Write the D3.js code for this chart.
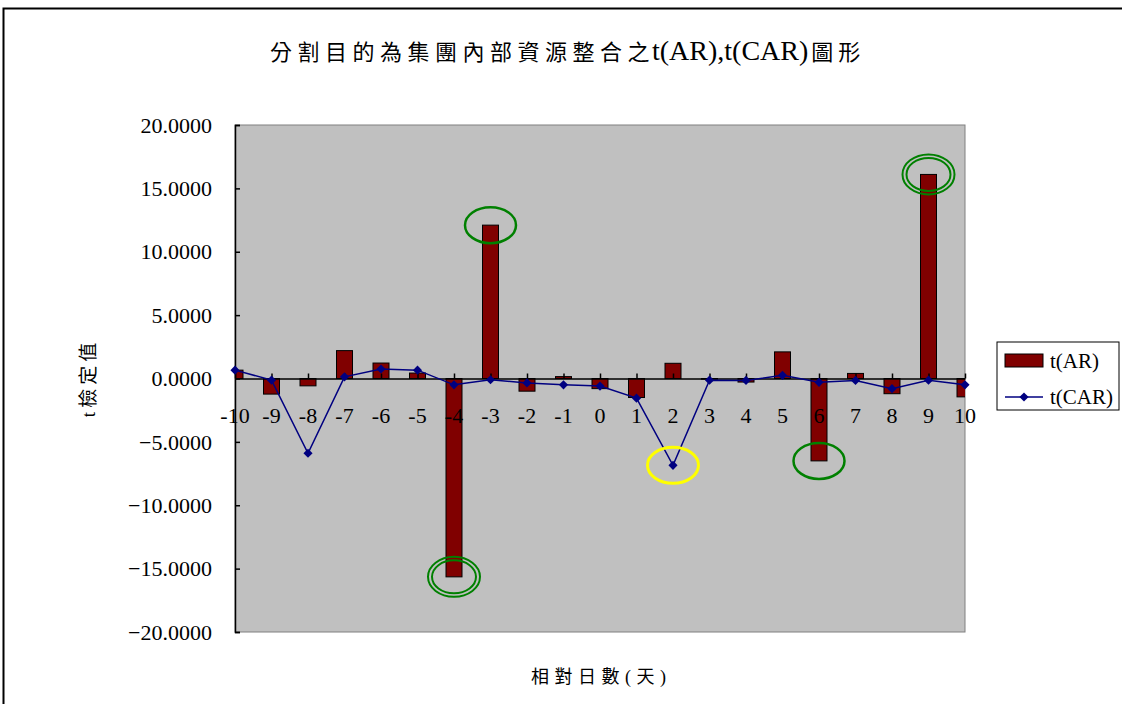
<!DOCTYPE html>
<html>
<head>
<meta charset="utf-8">
<script src="https://cdn.jsdelivr.net/npm/d3@7/dist/d3.min.js"></script>
<style>
  html, body { margin: 0; padding: 0; background: #fff; }
  svg { display: block; }
</style>
</head>
<body>
<svg id="chart" width="1122" height="704"></svg>
<script>
// Event days (relative to announcement)
const days = [-10, -9, -8, -7, -6, -5, -4, -3, -2, -1, 0, 1, 2, 3, 4, 5, 6, 7, 8, 9, 10];
// t statistic of abnormal return per day
const tAR = [0.66, -1.23, -0.58, 2.2, 1.22, 0.43, -15.65, 12.1, -1.0, 0.15, -0.8,
             -1.5, 1.2, -0.05, -0.28, 2.1, -6.5, 0.4, -1.2, 16.1, -1.45];
// t statistic of cumulative abnormal return per day
const tCAR = [0.66, -0.13, -5.9, 0.13, 0.75, 0.66, -0.5, -0.1, -0.35, -0.5, -0.6,
              -1.55, -6.85, -0.13, -0.15, 0.25, -0.3, -0.15, -0.8, -0.13, -0.5];
// Value axis ticks
const yTicks = [20, 15, 10, 5, 0, -5, -10, -15, -20];
// Highlighted observations
const highlightDays = [-4, -3, 2, 6, 9];
const highlightSeries = ["AR", "AR", "CAR", "AR", "AR"];
const highlightColors = ["#008000", "#008000", "#FFFF00", "#008000", "#008000"];
const highlightDouble = [true, false, false, false, true];

const titleParts = ["分割目的為集團內部資源整合之", "t(AR),t(CAR)", "圖形"];
const xTitle = "相對日數(天)";
const yTitle = "t檢定值";
const seriesNames = ["t(AR)", "t(CAR)"];

const SERIF = '"Liberation Serif", "Times New Roman", serif';
const CJK = '"Liberation Serif", "Noto Sans CJK TC", serif';

const svg = d3.select("#chart");
const plot = { left: 235, right: 965, top: 125, bottom: 632 };

// Outer chart frame (extends past the right/bottom edges)
svg.append("rect")
  .attr("x", 3.5).attr("y", 8.5).attr("width", 1300).attr("height", 900)
  .attr("fill", "#fff").attr("stroke", "#000").attr("stroke-width", 2);

const x = d3.scalePoint().domain(days).range([plot.left, plot.right]);
const y = d3.scaleLinear().domain([-20, 20]).range([plot.bottom, plot.top]);
const barW = 16;

// Plot background
svg.append("rect")
  .attr("x", plot.left).attr("y", plot.top)
  .attr("width", plot.right - plot.left).attr("height", plot.bottom - plot.top)
  .attr("fill", "#C0C0C0").attr("stroke", "#808080").attr("stroke-width", 1);

svg.append("clipPath").attr("id", "plotClip")
  .append("rect")
  .attr("x", plot.left).attr("y", plot.top)
  .attr("width", plot.right - plot.left).attr("height", plot.bottom - plot.top);

// Bars for t(AR)
svg.append("g").attr("clip-path", "url(#plotClip)")
  .selectAll("rect").data(days).join("rect")
  .attr("x", (d) => x(d) - barW / 2)
  .attr("y", (d, i) => y(Math.max(0, tAR[i])))
  .attr("width", barW)
  .attr("height", (d, i) => Math.abs(y(tAR[i]) - y(0)))
  .attr("fill", "#800000").attr("stroke", "#000").attr("stroke-width", 1);

// Value axis (ticks point into the plot)
const yAxis = svg.append("g")
  .attr("transform", `translate(${plot.left},0)`)
  .call(d3.axisRight(y).tickValues(yTicks).tickSize(5).tickFormat(""));
yAxis.select(".domain").attr("stroke", "#000").attr("stroke-width", 1.5);
yAxis.selectAll(".tick line").attr("stroke", "#000").attr("stroke-width", 1.5);

svg.append("g").selectAll("text").data(yTicks).join("text")
  .attr("x", plot.left - 23).attr("y", (d) => y(d))
  .attr("dy", "0.35em").attr("text-anchor", "end")
  .style("font-family", SERIF).style("font-size", "22px")
  .text((d) => d3.format(".4f")(d));

// Category axis drawn at zero
const xAxis = svg.append("g")
  .attr("transform", `translate(0,${y(0)})`)
  .call(d3.axisTop(x).tickSize(5).tickSizeOuter(0).tickFormat(""));
xAxis.select(".domain").attr("stroke", "#000").attr("stroke-width", 1.5);
xAxis.selectAll(".tick line").attr("stroke", "#000").attr("stroke-width", 1.5);

svg.append("g").selectAll("text").data(days).join("text")
  .attr("x", (d) => x(d)).attr("y", 423)
  .attr("text-anchor", "middle")
  .style("font-family", SERIF).style("font-size", "22px")
  .text((d) => d);

// t(CAR) line with diamond markers
const line = d3.line().x((d) => x(d)).y((d, i) => y(tCAR[i]));
svg.append("path").datum(days)
  .attr("d", line)
  .attr("fill", "none").attr("stroke", "#000080").attr("stroke-width", 1.5);

const marker = d3.symbol().type(d3.symbolSquare).size(42);
svg.append("g").selectAll("path").data(days).join("path")
  .attr("transform", (d, i) => `translate(${x(d)},${y(tCAR[i])}) rotate(45)`)
  .attr("d", marker)
  .attr("fill", "#000080");

// Highlight rings around notable observations
const ringG = svg.append("g").attr("fill", "none");
highlightDays.forEach((day, k) => {
  const idx = days.indexOf(day);
  const v = highlightSeries[k] === "AR" ? tAR[idx] : tCAR[idx];
  const cx = x(day), cy = y(v);
  const col = highlightColors[k];
  if (highlightDouble[k]) {
    ringG.append("ellipse").attr("cx", cx).attr("cy", cy).attr("rx", 26).attr("ry", 20)
      .attr("stroke", col).attr("stroke-width", 2);
    ringG.append("ellipse").attr("cx", cx).attr("cy", cy).attr("rx", 22).attr("ry", 16.5)
      .attr("stroke", col).attr("stroke-width", 2);
  } else {
    ringG.append("ellipse").attr("cx", cx).attr("cy", cy).attr("rx", 25.5).attr("ry", 18)
      .attr("stroke", col).attr("stroke-width", col === "#FFFF00" ? 3 : 2.5);
  }
});

// Title: spaced CJK with tighter Latin in between
const title = svg.append("text")
  .attr("x", 270).attr("y", 60)
  .style("font-family", CJK);
title.append("tspan").style("font-size", "22px").style("letter-spacing", "5.5px").text(titleParts[0]);
title.append("tspan").style("font-size", "28px").style("letter-spacing", "0px").attr("dx", -3).text(titleParts[1]);
title.append("tspan").style("font-size", "22px").style("letter-spacing", "5px").attr("dx", 3).text(titleParts[2]);

// Axis titles
svg.append("text")
  .attr("x", 531).attr("y", 683)
  .style("font-family", CJK)
  .style("font-size", "18px").style("letter-spacing", "5.5px")
  .text(xTitle);

svg.append("text")
  .attr("transform", "translate(95,378) rotate(-90)")
  .attr("text-anchor", "middle")
  .style("font-family", CJK)
  .style("font-size", "19px").style("letter-spacing", "4px")
  .text(yTitle);

// Legend
const lg = svg.append("g");
lg.append("rect").attr("x", 997).attr("y", 342).attr("width", 122).attr("height", 68)
  .attr("fill", "#fff").attr("stroke", "#000").attr("stroke-width", 1);
lg.append("rect").attr("x", 1005).attr("y", 354).attr("width", 38).attr("height", 13)
  .attr("fill", "#800000").attr("stroke", "#000").attr("stroke-width", 1);
lg.append("text").attr("x", 1050).attr("y", 368)
  .style("font-family", SERIF).style("font-size", "21px").text(seriesNames[0]);
lg.append("line").attr("x1", 1005).attr("x2", 1043).attr("y1", 397).attr("y2", 397)
  .attr("stroke", "#000080").attr("stroke-width", 1.5);
lg.append("path").attr("transform", "translate(1024,397) rotate(45)")
  .attr("d", marker).attr("fill", "#000080");
lg.append("text").attr("x", 1050).attr("y", 404)
  .style("font-family", SERIF).style("font-size", "21px").text(seriesNames[1]);
</script>
</body>
</html>
